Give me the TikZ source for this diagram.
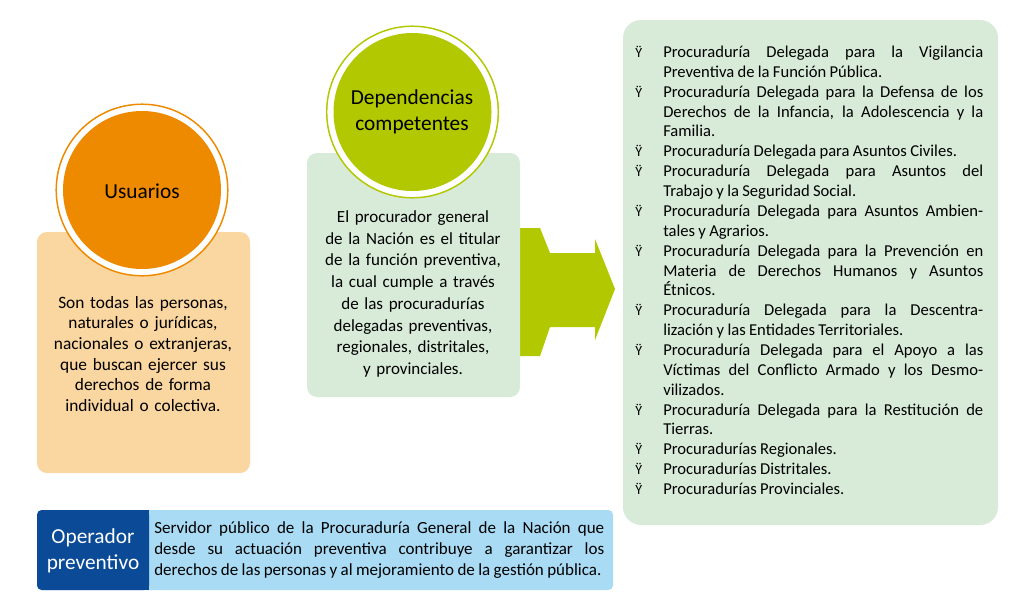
\documentclass[tikz,border=0pt]{standalone}
\usepackage{fontspec}
\setmainfont{Carlito}
\definecolor{orangeC}{HTML}{ED8A00}
\definecolor{orangeL}{HTML}{FAD6A0}
\definecolor{greenC}{HTML}{B2C800}
\definecolor{greenL}{HTML}{D8EBD9}
\definecolor{blueD}{HTML}{0A4A97}
\definecolor{blueL}{HTML}{A9DBF4}
\newcommand\bitem[1]{\hangindent=21pt\hangafter=1\noindent\makebox[21pt][l]{\fontsize{10.5pt}{10.5pt}\selectfont Ÿ}#1\par}
\newcommand\jsetup{\parindent=0pt\rightskip=0pt\parfillskip=0pt plus 1fil\tolerance=10000\hyphenpenalty=10000\pretolerance=-1\spaceskip=0.2em plus 0.4em minus 0.02em\relax}
\begin{document}
\begin{tikzpicture}[x=0.75pt,y=-0.75pt,
  box/.style={inner sep=0pt, outer sep=0pt, anchor=north west},
  ring/.style={circle, draw=#1, line width=1.1pt, fill=white, minimum size=128.7pt, inner sep=0pt},
  disc/.style={circle, fill=#1, minimum size=118.5pt, inner sep=0pt},
  title/.style={inner sep=0pt, anchor=base, align=center, font=\fontsize{16pt}{19.5pt}\selectfont},
  body/.style={inner sep=0pt, anchor=base, align=center},
  jtext/.style={inner sep=0pt, anchor=base west, align=justify}
]
\useasboundingbox (0,0) rectangle (1009,597);
\fill[white] (0,0) rectangle (1009,597);

% Usuarios
\node[box, fill=orangeL, rounded corners=7.5pt, minimum width=159.75pt, minimum height=180.75pt] (usrbox) at (37,232) {};
\node[ring=orangeC] (usrring) at (142,190) {};
\node[disc=orangeC] (usrdisc) at (142,190) {};
\node[title] (usrtitle) at (142,198) {Usuarios};
\node[body, text width=142.5pt, font=\fontsize{13pt}{15.5pt}\selectfont] (usrtext) at (143,308)
  {Son todas las personas,\\ naturales o jurídicas,\\ nacionales o extranjeras,\\ que buscan ejercer sus\\ derechos de forma\\ individual o colectiva.};

% Arrow
\fill[greenC] (520,228) -- (540,228) -- (550,253) -- (595,253) -- (595,239) -- (615,289)
  -- (595,340) -- (595,327) -- (550,327) -- (540,356) -- (520,356) -- cycle;

% Dependencias
\node[box, fill=greenL, rounded corners=7.5pt, minimum width=159.75pt, minimum height=183pt] (depbox) at (307,153) {};
\node[ring=greenC] (depring) at (412.5,112) {};
\node[disc=greenC] (depdisc) at (412.5,112) {};
\node[title, text width=150pt] (deptitle) at (412,104) {Dependencias\\ competentes};
\node[body, text width=150pt, font=\fontsize{12.75pt}{16.3pt}\selectfont] (deptext) at (413,222.5)
  {El procurador general\\ de la Nación es el titular\\ de la función preventiva,\\ la cual cumple a través\\ de las procuradurías\\ delegadas preventivas,\\ regionales, distritales,\\ y provinciales.};

% List box
\node[box, fill=greenL, rounded corners=13.5pt, minimum width=281.25pt, minimum height=378.75pt] (listbox) at (623,20) {};
\node[jtext, text width=261pt, font=\fontsize{12.45pt}{14.9pt}\selectfont] (list) at (635,57.5)
  {\jsetup
  \bitem{Procuraduría Delegada para la Vigilancia\linebreak Preventiva de la Función Pública.}
  \bitem{Procuraduría Delegada para la Defensa de los\linebreak Derechos de la Infancia, la Adolescencia y la\linebreak Familia.}
  \bitem{Procuraduría Delegada para Asuntos Civiles.}
  \bitem{Procuraduría Delegada para Asuntos del\linebreak Trabajo y la Seguridad Social.}
  \bitem{Procuraduría Delegada para Asuntos Ambien-\linebreak tales y Agrarios.}
  \bitem{Procuraduría Delegada para la Prevención en\linebreak Materia de Derechos Humanos y Asuntos\linebreak Étnicos.}
  \bitem{Procuraduría Delegada para la Descentra-\linebreak lización y las Entidades Territoriales.}
  \bitem{Procuraduría Delegada para el Apoyo a las\linebreak Víctimas del Conflicto Armado y los Desmo-\linebreak vilizados.}
  \bitem{Procuraduría Delegada para la Restitución de\linebreak Tierras.}
  \bitem{Procuradurías Regionales.}
  \bitem{Procuradurías Distritales.}
  \bitem{Procuradurías Provinciales.}}; 

% Operador preventivo
\node[box, fill=blueL, rounded corners=3.5pt, minimum width=432pt, minimum height=60pt] (opbox) at (37,510) {};
\node[box, fill=blueD, rounded corners=3.5pt, minimum width=84pt, minimum height=60pt] (opdark) at (37,510) {};
\fill[blueD] (140,510) rectangle (149,590);
\node[title, text width=80pt, font=\fontsize{16pt}{19.7pt}\selectfont, text=white] (optitle) at (93,543) {Operador\\ preventivo};
\node[jtext, text width=337.5pt, font=\fontsize{12.75pt}{15.75pt}\selectfont] (optext) at (154,533)
  {\jsetup
  Servidor público de la Procuraduría General de la Nación que\linebreak desde su actuación preventiva contribuye a garantizar los\linebreak derechos de las personas y al mejoramiento de la gestión pública.\par};
\end{tikzpicture}
\end{document}
